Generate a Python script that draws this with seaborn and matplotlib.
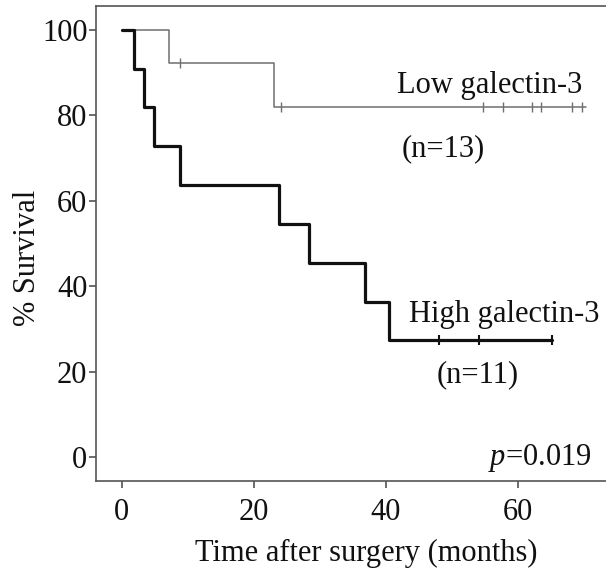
import numpy as np
import pandas as pd
import matplotlib
matplotlib.use("Agg")
import matplotlib.pyplot as plt
import seaborn as sns

# Kaplan-Meier steps (months, % survival)
low_times = [0, 7.2, 23.1, 70.4]
low_surv = [100, 92.3, 81.8, 81.8]
low_censor = [8.8, 24.1, 54.7, 57.8, 62.2, 63.6, 68.3, 69.8]

high_times = [0, 1.8, 3.3, 4.9, 8.9, 23.9, 28.4, 36.9, 40.5, 65.2]
high_surv = [100, 90.9, 81.8, 72.7, 63.6, 54.5, 45.5, 36.4, 27.3, 27.3]
high_censor = [48.1, 54.2, 65.2]

xticks = [0, 20, 40, 60]
yticks = [0, 20, 40, 60, 80, 100]


def surv_at(times, surv, t):
    idx = np.searchsorted(times, t, side="right") - 1
    return np.array(surv)[idx]


low = pd.DataFrame({"t": low_times, "s": low_surv})
high = pd.DataFrame({"t": high_times, "s": high_surv})
low_c = pd.DataFrame({"t": low_censor, "s": surv_at(low_times, low_surv, low_censor)})
high_c = pd.DataFrame({"t": high_censor, "s": surv_at(high_times, high_surv, high_censor)})

sns.set_theme(style="ticks")
plt.rcParams["font.family"] = ["Liberation Serif", "DejaVu Serif"]
plt.rcParams["mathtext.fontset"] = "custom"
plt.rcParams["mathtext.it"] = "Liberation Serif:italic"

fig = plt.figure(figsize=(6.06, 5.72), dpi=100)
ax = fig.add_axes([0.158, 0.1586, 0.842, 0.8314])

sns.lineplot(data=low, x="t", y="s", ax=ax, color="#6f6f6f", lw=1.1,
             drawstyle="steps-post", estimator=None, sort=False)
sns.lineplot(data=high, x="t", y="s", ax=ax, color="#111111", lw=2.3,
             drawstyle="steps-post", estimator=None, sort=False)
sns.scatterplot(data=low_c, x="t", y="s", ax=ax, marker="|", s=55,
                color="#6f6f6f", linewidth=1.0)
sns.scatterplot(data=high_c, x="t", y="s", ax=ax, marker="|", s=45,
                color="#111111", linewidth=1.5)

ax.set_xlim(-3.94, 73.4)
ax.set_ylim(-5.66, 105.6)
ax.set_xticks(xticks)
ax.set_yticks(yticks)

fs = 22
ax.tick_params(axis="both", labelsize=fs, length=5, width=1.1, color="#444444",
               labelcolor="#111111")
ax.tick_params(axis="y", pad=1)
ax.tick_params(axis="x", pad=7)
ax.set_xlabel("Time after surgery (months)", fontsize=fs, color="#111111")
ax.set_ylabel("% Survival", fontsize=fs, color="#111111")
ax.xaxis.set_label_coords(0.53, -0.122)
ax.yaxis.set_label_coords(-0.106, 0.469)

for side in ["left", "bottom", "top"]:
    ax.spines[side].set_color("#555555")
    ax.spines[side].set_linewidth(1.2)
ax.spines["right"].set_visible(False)

tc = "#111111"
ax.text(55.8, 85.1, "Low galectin-3", fontsize=fs, ha="center", va="baseline", color=tc)
ax.text(48.8, 70.3, "(n=13)", fontsize=fs, ha="center", va="baseline", color=tc)
ax.text(58.0, 31.7, "High galectin-3", fontsize=fs, ha="center", va="baseline", color=tc)
ax.text(53.9, 17.6, "(n=11)", fontsize=fs, ha="center", va="baseline", color=tc)
ax.text(71.2, -1.85, r"$p$=0.019", fontsize=fs, ha="right", va="baseline", color=tc)

fig.savefig("out.png", dpi=100)
